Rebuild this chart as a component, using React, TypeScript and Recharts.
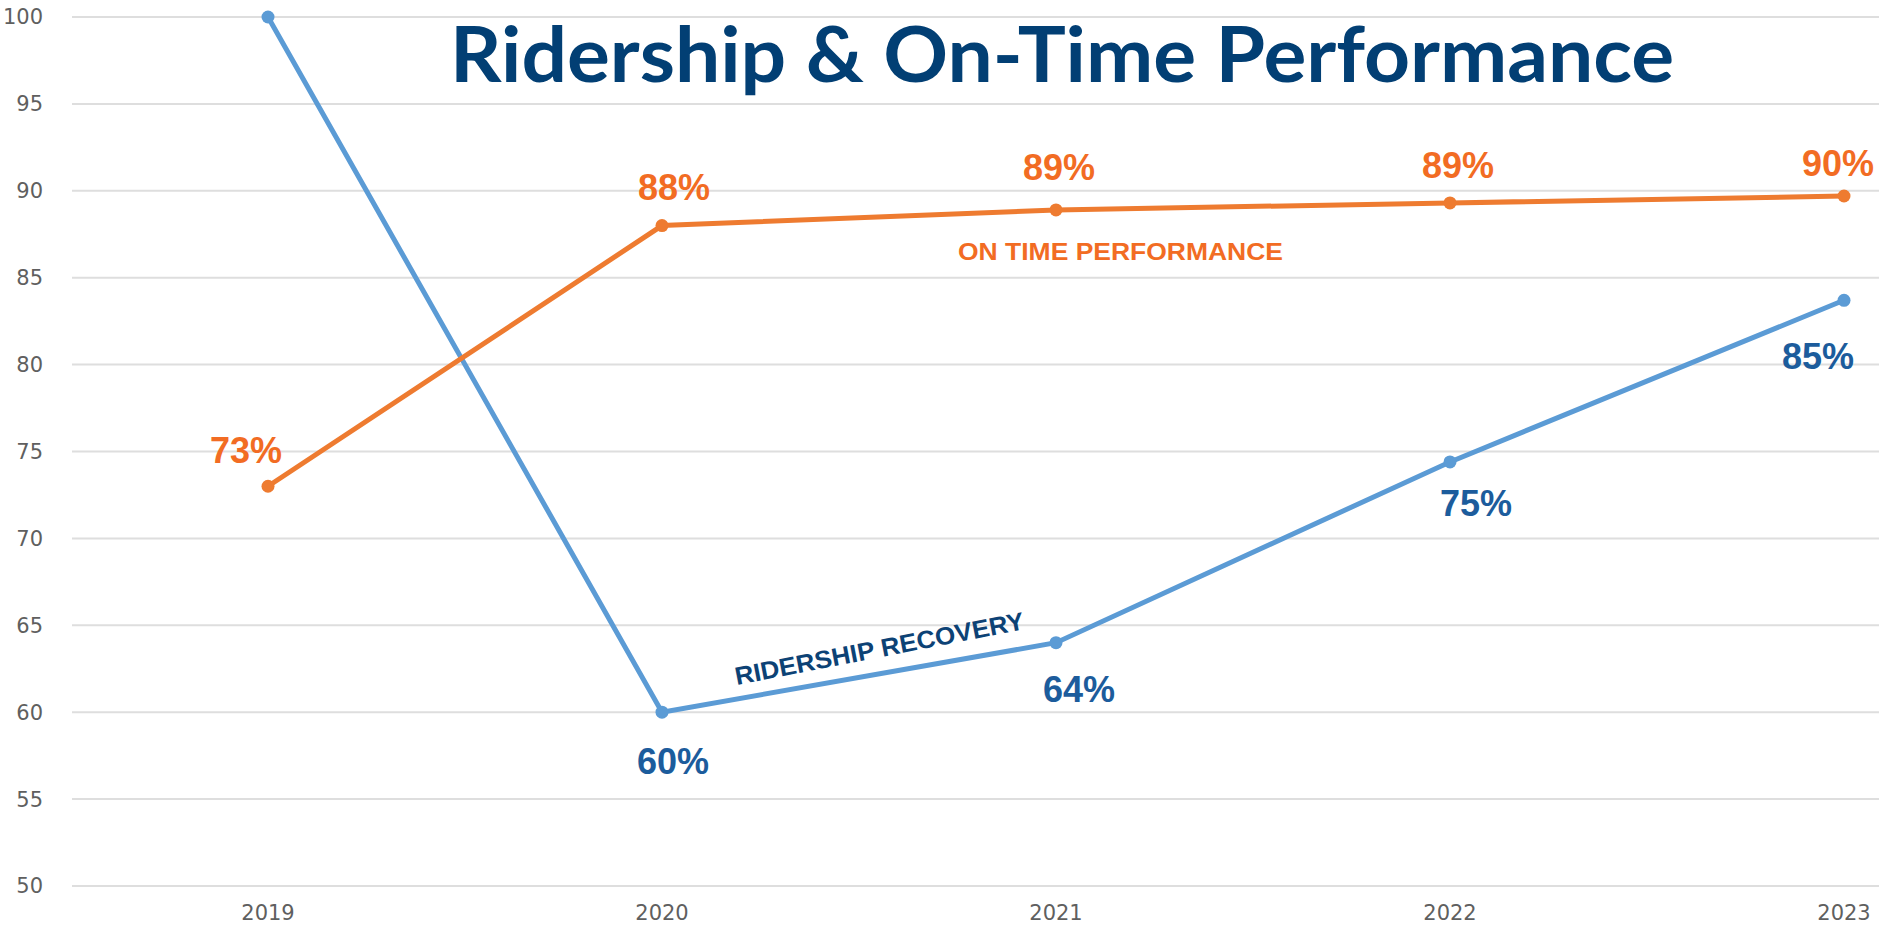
import React from "react";
import {
  LineChart,
  Line,
  XAxis,
  YAxis,
  CartesianGrid,
  LabelList,
} from "recharts";

const years = ["2019", "2020", "2021", "2022", "2023"];
const ridership = [100, 60, 64, 74.4, 83.7];
const onTime = [73, 88, 88.9, 89.3, 89.7];
const ridershipLabels = ["", "60%", "64%", "75%", "85%"];
const onTimeLabels = ["73%", "88%", "89%", "89%", "90%"];
const yTicks = [50, 55, 60, 65, 70, 75, 80, 85, 90, 95, 100];

// label placement relative to each point (dx, dy of text centre)
const ridershipOffsets = [
  [0, 0],
  [11, 49],
  [23, 46],
  [26, 41],
  [-26, 56],
];
const onTimeOffsets = [
  [-22, -36],
  [12, -39],
  [3, -43],
  [8, -38],
  [-6, -33],
];

const data = years.map((year, i) => ({
  year,
  ridership: ridership[i],
  onTime: onTime[i],
}));

const BLUE = "#5b9bd5";
const BLUE_TEXT = "#1c5c9c";
const ORANGE = "#ee7b30";
const ORANGE_TEXT = "#f26c23";

function makeLabel(labels: string[], offsets: number[][], color: string) {
  return (props: any) => {
    const { x, y, index } = props;
    const text = labels[index];
    if (!text) return null;
    const [dx, dy] = offsets[index];
    return (
      <text
        x={x + dx}
        y={y + dy + 13}
        textAnchor="middle"
        fill={color}
        fontFamily="'Liberation Sans', Arial, sans-serif"
        fontWeight={700}
        fontSize={36}
      >
        {text}
      </text>
    );
  };
}

const tickStyle = {
  fill: "#5f5f5f",
  fontSize: 21,
  fontFamily: "'DejaVu Sans', sans-serif",
};

export default function App() {
  return (
    <div style={{ position: "absolute", left: 0, top: 0, width: 1879, height: 929, background: "#fff" }}>
      <LineChart
        width={1879}
        height={929}
        data={data}
        margin={{ top: 17, right: 0, bottom: 0, left: 0 }}
      >
        <CartesianGrid vertical={false} stroke="#dedede" strokeWidth={2} />
        <XAxis
          dataKey="year"
          scale="point"
          padding={{ left: 196, right: 35 }}
          axisLine={false}
          tickLine={false}
          tickSize={0}
          tickMargin={19}
          height={43}
          tick={tickStyle}
          interval={0}
        />
        <YAxis
          domain={[50, 100]}
          ticks={yTicks}
          width={72}
          axisLine={false}
          tickLine={false}
          tickSize={0}
          tickMargin={29}
          tick={tickStyle}
          interval={0}
        />
        <Line
          dataKey="ridership"
          stroke={BLUE}
          strokeWidth={5}
          dot={{ r: 6.5, fill: BLUE, stroke: BLUE, strokeWidth: 0 }}
          isAnimationActive={false}
        >
          <LabelList dataKey="ridership" content={makeLabel(ridershipLabels, ridershipOffsets, BLUE_TEXT)} />
        </Line>
        <Line
          dataKey="onTime"
          stroke={ORANGE}
          strokeWidth={5}
          dot={{ r: 6.5, fill: ORANGE, stroke: ORANGE, strokeWidth: 0 }}
          isAnimationActive={false}
        >
          <LabelList dataKey="onTime" content={makeLabel(onTimeLabels, onTimeOffsets, ORANGE_TEXT)} />
        </Line>
      </LineChart>
      <svg
        width={1879}
        height={929}
        style={{ position: "absolute", left: 0, top: 0, pointerEvents: "none" }}
      >
        <text
          x={450}
          y={82}
          textLength={1224}
          lengthAdjust="spacingAndGlyphs"
          fill="#023f74"
          fontFamily="Lato, 'Open Sans', sans-serif"
          fontWeight={700}
          fontSize={76}
        >
          Ridership &amp; On-Time Performance
        </text>
        <text
          x={958}
          y={260}
          textLength={325}
          lengthAdjust="spacingAndGlyphs"
          fill={ORANGE_TEXT}
          fontFamily="'Liberation Sans', Arial, sans-serif"
          fontWeight={700}
          fontSize={24}
        >
          ON TIME PERFORMANCE
        </text>
        <text
          x={881}
          y={657}
          textAnchor="middle"
          transform="rotate(-11 881 657)"
          textLength={294}
          lengthAdjust="spacingAndGlyphs"
          fill="#0c4275"
          fontFamily="'Liberation Sans', Arial, sans-serif"
          fontWeight={700}
          fontSize={25}
        >
          RIDERSHIP RECOVERY
        </text>
      </svg>
    </div>
  );
}
